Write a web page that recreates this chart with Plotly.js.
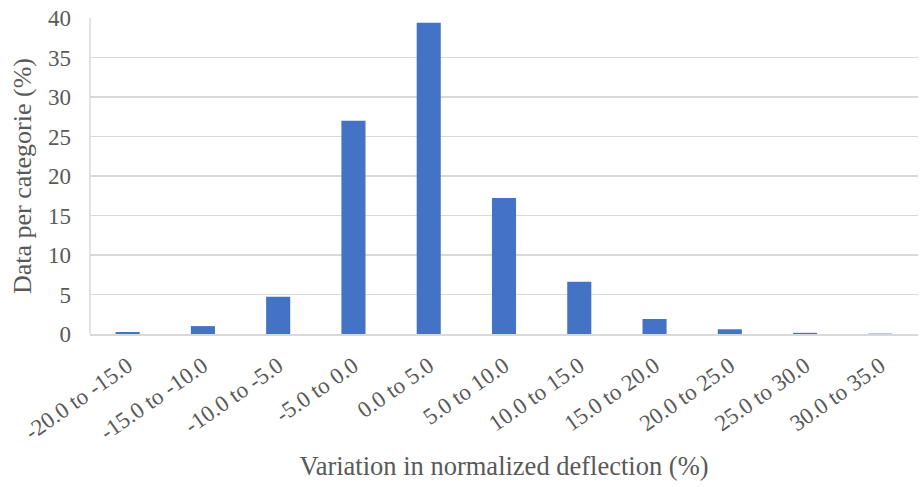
<!DOCTYPE html>
<html><head><meta charset="utf-8">
<script src="https://cdn.plot.ly/plotly-3.0.1.min.js"></script>
<style>html,body{margin:0;padding:0;background:#fff}</style>
</head><body><div id="chart" style="width:920px;height:487px"></div>
<script>
const categories = ["-20.0 to -15.0","-15.0 to -10.0","-10.0 to -5.0","-5.0 to 0.0","0.0 to 5.0","5.0 to 10.0","10.0 to 15.0","15.0 to 20.0","20.0 to 25.0","25.0 to 30.0","30.0 to 35.0"];
const values = [0.25, 1.0, 4.7, 27.0, 39.4, 17.2, 6.6, 1.9, 0.6, 0.15, 0.05];
const yTicks = [0,5,10,15,20,25,30,35,40];

const font = {family: "Times New Roman, Liberation Serif, DejaVu Serif, serif", color: "#595959"};
Plotly.newPlot("chart", [{
  type: "bar", x: categories, y: values,
  marker: {color: "#4472C4"}, hoverinfo: "x+y"
}], {
  width: 920, height: 487,
  margin: {l: 90, r: 2, t: 18, b: 153},
  paper_bgcolor: "#fff", plot_bgcolor: "#fff",
  bargap: 0.68,
  showlegend: false,
  xaxis: {
    type: "category", tickangle: -35, tickfont: Object.assign({size: 23}, font),
    showline: true, linecolor: "#d9d9d9", linewidth: 1.5, ticks: "", ticklabelstandoff: 8,
    title: {text: "Variation in normalized deflection (%)", font: Object.assign({size: 26.5}, font), standoff: 12}
  },
  yaxis: {
    range: [0, 40], tickvals: yTicks, tickfont: Object.assign({size: 23}, font),
    showgrid: true, gridcolor: "#d9d9d9", gridwidth: 1.5, zeroline: false,
    showline: false, ticks: "", ticklabelstandoff: 18,
    title: {text: "Data per categorie (%)", font: Object.assign({size: 26}, font), standoff: 8}
  },
  shapes: [{type: "line", xref: "paper", yref: "paper", x0: 0, x1: 0, y0: 0, y1: 1, line: {color: "#d9d9d9", width: 1.5}}]
}, {displayModeBar: false, staticPlot: true});
</script></body></html>
